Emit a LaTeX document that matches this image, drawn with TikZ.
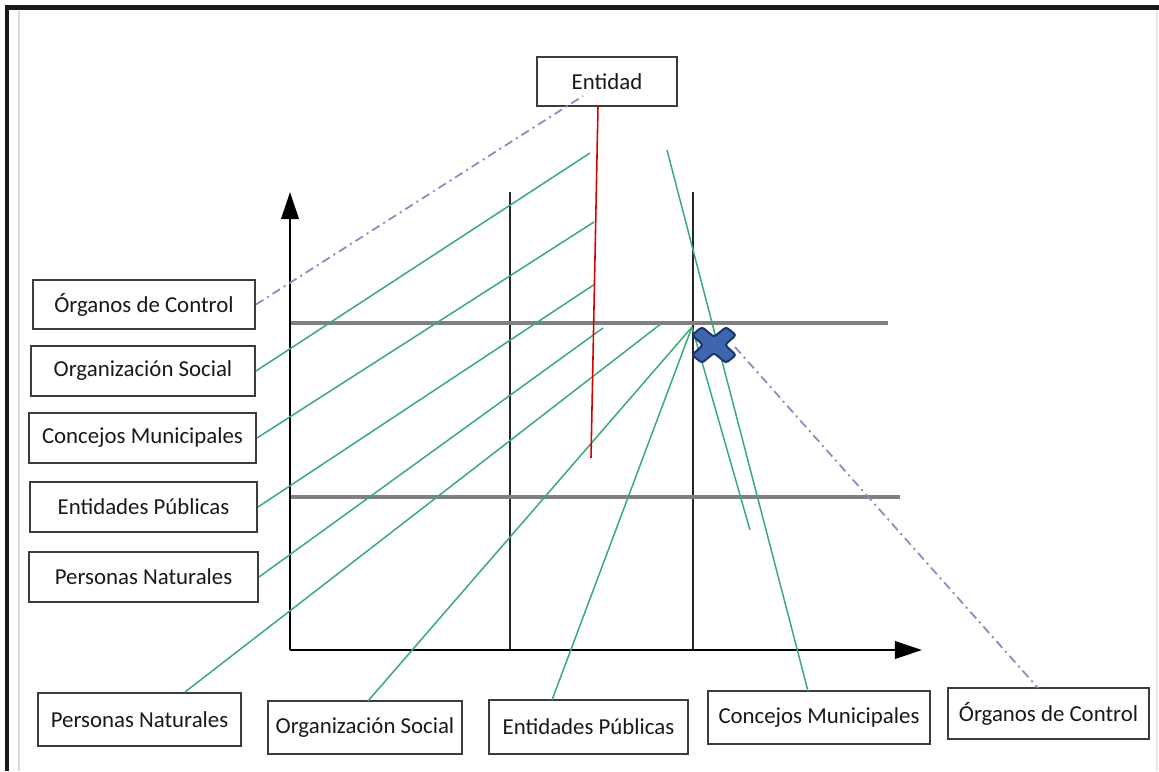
\documentclass[tikz,border=0pt]{standalone}
\usepackage{fontspec}
\setmainfont{Carlito}
\usetikzlibrary{arrows.meta,calc}
\definecolor{grn}{RGB}{55,172,118}
\definecolor{dsh}{RGB}{135,140,195}
\definecolor{crossfill}{RGB}{62,102,172}
\definecolor{crossline}{RGB}{28,48,110}
\definecolor{boxline}{RGB}{60,60,60}
\def\pxu{0.02cm}
\tikzset{
  lbox/.style={draw=boxline, line width=1.1pt, fill=white, inner sep=0pt,
    font=\fontsize{13}{15}\selectfont, text=black!90},
  axis/.style={line width=1.3pt, black, -{Triangle[length=15.5pt,width=10pt]}},
  vline/.style={line width=0.9pt, black!85},
  hline/.style={line width=1.8pt, black!50},
  gline/.style={line width=0.85pt, grn},
  rline/.style={line width=0.9pt, red!85!black},
  dline/.style={line width=1pt, dsh, dash pattern=on 5pt off 2.5pt on 1.2pt off 2.5pt},
  crossst/.style={fill=crossfill, draw=crossline, line width=1.1pt, rounded corners=1.5pt}
}
\begin{document}
\begin{tikzpicture}[x=0.02cm,y=-0.02cm]
\useasboundingbox (0,0) rectangle (1159,771);
% frame
\fill[white] (0,0) rectangle (1159,771);
\draw[line width=2.8pt, black!90] (5,7.5) -- (1159,7.5);
\draw[line width=2.2pt, black!90] (7,6) -- (7,771);
\draw[line width=1pt, black!15] (19,11) -- (19,771);
\draw[line width=0.8pt, black!10] (1157,11) -- (1157,771);

% coordinates of the chart
\coordinate (o) at (290,650);
\coordinate (ytop) at (290,192);
\coordinate (xend) at (922,650);
\coordinate (v1t) at (510,192);
\coordinate (v1b) at (510,650);
\coordinate (v2t) at (693,192);
\coordinate (v2b) at (693,650);
\coordinate (h1a) at (290,323);
\coordinate (h1b) at (888,323);
\coordinate (h2a) at (290,497);
\coordinate (h2b) at (900,497);

% grid
\draw[vline] (v1t) -- (v1b);
\draw[vline] (v2t) -- (v2b);
\draw[hline] (h1a) -- (h1b);
\draw[hline] (h2a) -- (h2b);
\draw[axis] (o) -- (ytop);
\draw[axis] (o) -- (xend);

% boxes
\node[lbox, minimum width=140*\pxu, minimum height=49*\pxu] (ent) at (607,81.5) {Entidad};

\node[lbox, minimum width=222*\pxu, minimum height=49*\pxu] (ocl) at (144,304.5) {Órganos de Control};
\node[lbox, minimum width=224*\pxu, minimum height=50*\pxu] (osl) at (143,371) {Organización Social};
\node[lbox, minimum width=227*\pxu, minimum height=50*\pxu] (cml) at (142.5,438) {Concejos Municipales};
\node[lbox, minimum width=227*\pxu, minimum height=50*\pxu] (epl) at (143.5,507) {Entidades Públicas};
\node[lbox, minimum width=229*\pxu, minimum height=50*\pxu] (pnl) at (143.5,577) {Personas Naturales};

\node[lbox, minimum width=203*\pxu, minimum height=53*\pxu] (pnb) at (139.5,719.5) {Personas Naturales};
\node[lbox, minimum width=194*\pxu, minimum height=53*\pxu] (osb) at (365,727.5) {Organización Social};
\node[lbox, minimum width=199*\pxu, minimum height=54*\pxu] (epb) at (588.5,727) {Entidades Públicas};
\node[lbox, minimum width=222*\pxu, minimum height=53*\pxu] (cmb) at (819,717.5) {Concejos Municipales};
\node[lbox, minimum width=201*\pxu, minimum height=51*\pxu] (ocb) at (1048.5,713.5) {Órganos de Control};

% free ends
\coordinate (ta) at (590,153);
\coordinate (tb) at (594,222);
\coordinate (tc) at (595,284);
\coordinate (td) at (603,328);
\coordinate (te) at (662,323);
\coordinate (conv) at (692,327);
\coordinate (th) at (667,150);
\coordinate (ti) at (750,530);
\coordinate (rt) at (598,106);
\coordinate (rb) at (591,458);
\coordinate (entd) at (583,96);
\coordinate (xe) at (735,347);
\coordinate (ocbn) at (1038,688);
\coordinate (pnbn) at (185,692);
\coordinate (osbn) at (368,701);
\coordinate (epbn) at (552,700);
\coordinate (cmbn) at (808,691);

% green connectors
\draw[gline] (osl.east) -- (ta);
\draw[gline] (cml.east) -- (tb);
\draw[gline] (epl.east) -- (tc);
\draw[gline] (pnl.east) -- (td);
\draw[gline] (pnbn) -- (te);
\draw[gline] (osbn) -- (conv);
\draw[gline] (epbn) -- (conv);
\draw[gline] (cmbn) -- (th);
\draw[gline] (conv) -- (ti);

% red line
\draw[rline] (rt) -- (rb);

% dash-dot connectors
\draw[dline] (ocl.east) -- (entd);
\draw[dline] (xe) -- (ocbn);

% cross
\begin{scope}[shift={(714,345)}]
\filldraw[crossst] (-22,-10) -- (-12,-18) -- (0,-8) -- (12,-18) -- (22,-10) -- (11,0)
  -- (22,10) -- (12,18) -- (0,8) -- (-12,18) -- (-22,10) -- (-11,0) -- cycle;
\end{scope}
\end{tikzpicture}
\end{document}
